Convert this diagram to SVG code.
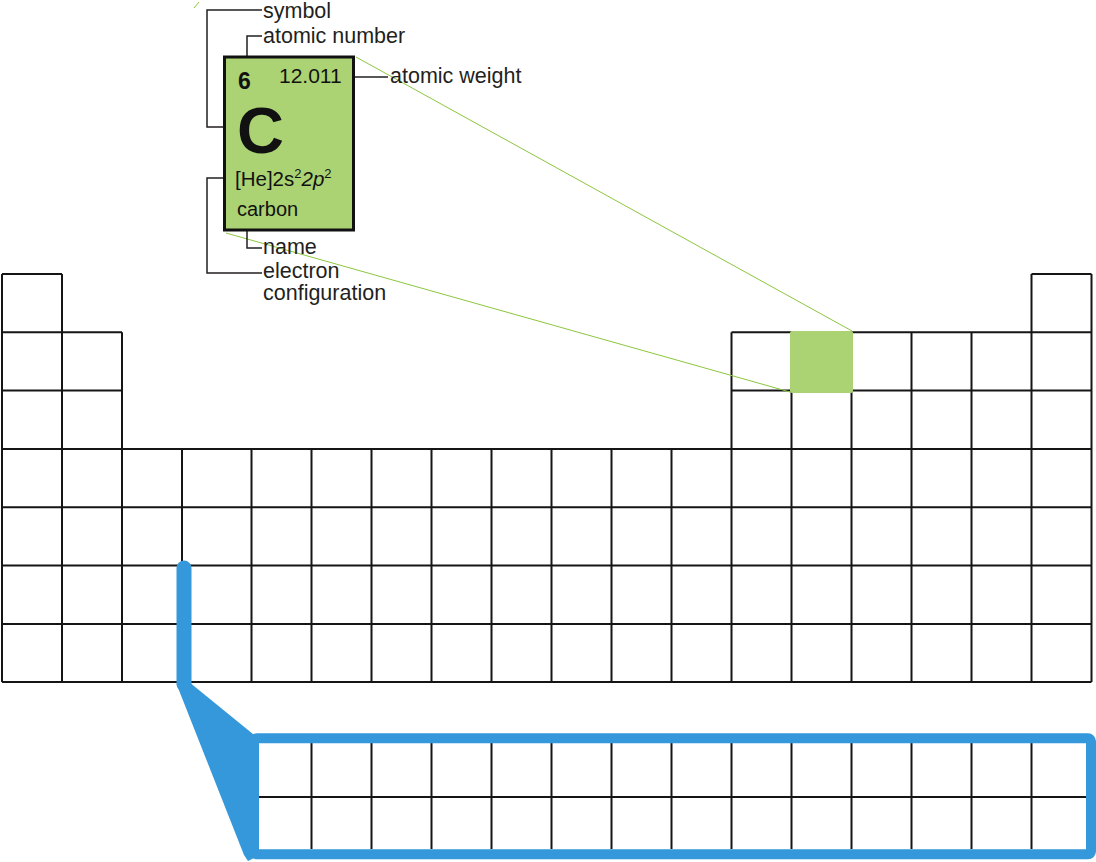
<svg xmlns="http://www.w3.org/2000/svg" width="1096" height="862" viewBox="0 0 1096 862">
<style>
.grid{fill:none;stroke:#151515;stroke-width:2}
.lead{fill:none;stroke:#231f20;stroke-width:1.5}
.zoom{stroke:#8cc63f;stroke-width:1}
.lbl{font-family:"Liberation Sans",Arial,sans-serif;font-size:21.5px;fill:#231f20}
.el{font-family:"Liberation Sans",Arial,sans-serif;fill:#111}
.blue{fill:#3498db}
</style>
<rect width="1096" height="862" fill="#ffffff"/>
<g id="table-grid">
<path class="grid" d="M2,274H62M1031.5,274H1091.5M2,332.3H122M731.5,332.3H1091.5M2,390.6H122M731.5,390.6H1091.5M2,449H1091.5M2,507.3H1091.5M2,565.6H1091.5M2,624H1091.5M2,682H1091.5"/>
<path class="grid" d="M2,274V682M62,274V682M122,332.3V682M182,449V682M251.5,449V682M311.5,449V682M371.5,449V682M431.5,449V682M491.5,449V682M551.5,449V682M611.5,449V682M671.5,449V682M731.5,332.3V682M791.5,332.3V682M851.5,332.3V682M911.5,332.3V682M971.5,332.3V682M1031.5,274V682M1091.5,274V682"/>
</g>
<g id="carbon-cell">
<rect x="790" y="331" width="63" height="62" rx="2" fill="#acd373"/>
</g>
<g id="connectors">
<line class="zoom" x1="356" y1="57" x2="852" y2="331"/>
<line class="zoom" x1="226" y1="233" x2="790" y2="392"/>
<line class="zoom" x1="194" y1="8" x2="199" y2="2"/>
<path class="lead" d="M262,10H207V127H233"/>
<path class="lead" d="M262,36H247V62"/>
<path class="lead" d="M345,77H388"/>
<path class="lead" d="M231,178H207V273H262"/>
<path class="lead" d="M247,223V248H262"/>
</g>
<g id="element-card">
<rect x="224.5" y="57" width="129" height="173" fill="#acd373" stroke="#111" stroke-width="3"/>
<text class="el" x="238" y="89" font-size="23" font-weight="bold">6</text>
<text class="el" x="279" y="83" font-size="21">12.011</text>
<text class="el" x="237" y="153" font-size="65" font-weight="bold">C</text>
<text class="el" x="235" y="186" font-size="20.5" fill="#222">[He]2s<tspan font-size="13" dy="-8">2</tspan><tspan font-style="italic" dy="8">2p</tspan><tspan font-size="13" dy="-8">2</tspan></text>
<text class="el" x="237" y="216" font-size="20" fill="#222">carbon</text>
</g>
<g id="labels">
<text class="lbl" x="263" y="18">symbol</text>
<text class="lbl" x="263" y="43">atomic number</text>
<text class="lbl" x="390" y="83">atomic weight</text>
<text class="lbl" x="263" y="254">name</text>
<text class="lbl" x="263" y="278">electron</text>
<text class="lbl" x="263" y="300">configuration</text>
</g>
<g id="f-block-inset">
<line x1="184" y1="568" x2="184" y2="684" stroke="#3498db" stroke-width="15" stroke-linecap="round"/>
<polygon class="blue" points="176.5,684 191.5,684 258,738 258,856 248,861 244,855"/>
<path class="grid" d="M259,797H1087M311.5,743V849M371.5,743V849M431.5,743V849M491.5,743V849M551.5,743V849M611.5,743V849M671.5,743V849M731.5,743V849M791.5,743V849M851.5,743V849M911.5,743V849M971.5,743V849M1031.5,743V849"/>
<rect x="254" y="738.3" width="837" height="116" rx="3" fill="none" stroke="#3498db" stroke-width="10"/>
</g>
</svg>
